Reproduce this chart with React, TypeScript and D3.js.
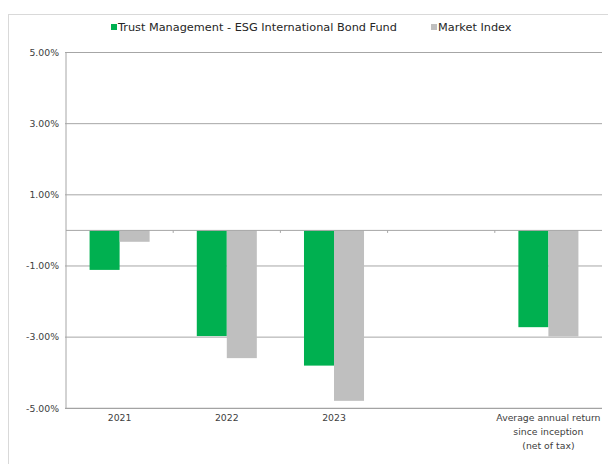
import React from "react";
import * as d3 from "d3";

const categories = ["2021", "2022", "2023", "", "Average annual return|since inception|(net of tax)"];
const fundValues: (number | null)[] = [-1.11, -2.97, -3.8, null, -2.72];
const indexValues: (number | null)[] = [-0.32, -3.59, -4.79, null, -2.98];
const seriesNames = ["Trust Management - ESG International Bond Fund", "Market Index"];
const seriesColors = ["#00b050", "#bfbfbf"];
const tickValues = [5, 3, 1, -1, -3, -5];
const tickLabels = ["5.00%", "3.00%", "1.00%", "-1.00%", "-3.00%", "-5.00%"];

const FONT = "'DejaVu Sans', Verdana, sans-serif";

export default function App() {
  const left = 66, right = 602, top = 52.5, bottom = 408.3;
  const keys = categories.map((c, i) => c + "#" + i);
  const y = d3.scaleLinear().domain([-5, 5]).range([bottom, top]);
  const x = d3.scaleBand<string>().domain(keys).range([left, right]).paddingInner(0.44).paddingOuter(0.22);
  const sub = d3.scaleBand<number>().domain([0, 1]).range([0, x.bandwidth()]);
  const series = [fundValues, indexValues];
  const step = x.step();

  return (
    <svg width={608} height={464} style={{ position: "absolute", left: 0, top: 0, background: "#fff" }}>
      <rect x={8.5} y={14.5} width={700} height={600} fill="none" stroke="#d9d9d9" strokeWidth={1} />
      {/* legend */}
      <g fontFamily={FONT} fontSize={11.3} fill="#262626">
        <rect x={111} y={24} width={6} height={6} fill={seriesColors[0]} />
        <text x={118} y={31}>{seriesNames[0]}</text>
        <rect x={431} y={24} width={6} height={6} fill={seriesColors[1]} />
        <text x={438} y={31}>{seriesNames[1]}</text>
      </g>
      {/* gridlines */}
      {tickValues.map((t) => (
        <line key={t} x1={65} x2={right} y1={y(t)} y2={y(t)} stroke={t === -5 ? "#8c8c8c" : "#a6a6a6"} strokeWidth={1} />
      ))}
      <line x1={left} x2={left} y1={top} y2={bottom} stroke="#a6a6a6" />
      {/* bars */}
      {series.map((vals, s) =>
        vals.map((v, i) =>
          v === null ? null : (
            <rect key={s + "-" + i} x={(x(keys[i]) as number) + (sub(s) as number)} y={y(Math.max(0, v))} width={sub.bandwidth()} height={Math.abs(y(v) - y(0))} fill={seriesColors[s]} />
          )
        )
      )}
      {/* zero line */}
      <line x1={left} x2={right} y1={y(0)} y2={y(0)} stroke="#a6a6a6" />
      {d3.range(1, categories.length).map((k) => (
        <line key={k} x1={left + k * step} x2={left + k * step} y1={y(0)} y2={y(0) + 2.5} stroke="#a6a6a6" />
      ))}
      {/* y labels */}
      <g fontFamily={FONT} fontSize={9.3} fill="#404040" textAnchor="end">
        {tickValues.map((t, i) => (
          <text key={t} x={59} y={y(t)} dy="0.35em">{tickLabels[i]}</text>
        ))}
      </g>
      {/* x labels */}
      <g fontFamily={FONT} fontSize={9.3} fill="#404040" textAnchor="middle">
        {categories.map((c, i) => {
          const cx = (x(keys[i]) as number) + x.bandwidth() / 2;
          return c.split("|").map((line, j) => (
            <text key={i + "-" + j} x={cx} y={421 + j * 14}>{line}</text>
          ));
        })}
      </g>
    </svg>
  );
}
